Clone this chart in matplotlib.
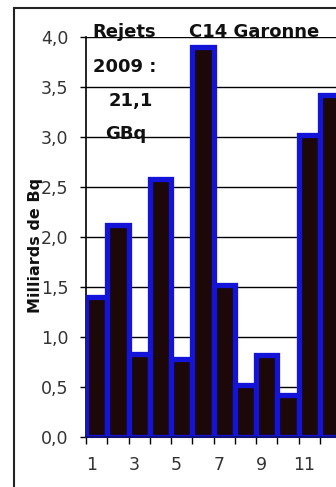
import matplotlib as mpl
mpl.use("Agg")
import matplotlib.pyplot as plt
from matplotlib.patches import Rectangle
from matplotlib.transforms import ScaledTranslation

months = [1, 2, 3, 4, 5, 6, 7, 8, 9, 10, 11, 12]
values = [1.40, 2.12, 0.83, 2.58, 0.78, 3.90, 1.52, 0.52, 0.82, 0.42, 3.02, 3.42]
yticks = [0.0, 0.5, 1.0, 1.5, 2.0, 2.5, 3.0, 3.5, 4.0]
xlabels = ["1", "", "3", "", "5", "", "7", "", "9", "", "11", ""]

W, H = 336, 487
fig = plt.figure(figsize=(W / 100, H / 100), dpi=100)
fig.patch.set_facecolor("white")

# outer chart border (cropped on right / bottom)
fig.patches.append(Rectangle((14 / W, -0.05), 1.2, 1 - 8 / H + 0.05,
                             transform=fig.transFigure, fill=False,
                             edgecolor="#222222", linewidth=1.5))

ax = fig.add_axes([86 / W, 1 - 437 / H, 255 / W, 400 / H])
ax.bar(months, values, width=1.0, color="#1c0808", edgecolor="#1414d8",
       linewidth=3.8, zorder=3)
ax.set_xlim(0.5, 12.5)
ax.set_ylim(0, 4.0)
ax.set_yticks(yticks)
ax.set_yticklabels([("%.1f" % v).replace(".", ",") for v in yticks],
                   fontsize=12.5, color="#333333", family="DejaVu Sans")
ax.yaxis.grid(True, color="black", linewidth=1.0, zorder=1)
ax.set_axisbelow(True)

ax.set_xticks([m - 0.5 for m in months] + [12.5])
ax.set_xticklabels([])
ax.set_xticks(months, minor=True)
ax.set_xticklabels(xlabels, minor=True, fontsize=12.5, color="#333333",
                   family="DejaVu Sans")
ax.tick_params(axis="x", which="minor", length=0, pad=14)
ax.tick_params(axis="x", which="major", length=5, width=1, color="black")
ax.tick_params(axis="y", length=4.5, width=1, pad=8)
shift = ScaledTranslation(-0.05, 0, fig.dpi_scale_trans)
for lab in ax.get_xticklabels(minor=True):
    lab.set_transform(lab.get_transform() + shift)

for s in ["top", "right"]:
    ax.spines[s].set_visible(False)
ax.spines["left"].set_linewidth(1.2)
ax.spines["bottom"].set_linewidth(1.5)
ax.spines["bottom"].set_color("#10107a")
ax.spines["bottom"].set_zorder(4)

fig.text(36 / W, 1 - 245 / H, "Milliards de Bq", rotation=90, ha="center",
         va="center", fontsize=11.5, fontweight="bold", family="DejaVu Sans",
         color="#111111")

tfont = dict(fontsize=13, fontweight="bold", family="DejaVu Sans",
             color="#111111", va="center", ha="left")
fig.text(92 / W, 1 - 32 / H, "Rejets", **tfont)
fig.text(189 / W, 1 - 32 / H, "C14 Garonne", **tfont)
fig.text(93 / W, 1 - 67 / H, "2009 :", **tfont)
fig.text(109 / W, 1 - 101 / H, "21,1", **tfont)
fig.text(105 / W, 1 - 134 / H, "GBq", **tfont)

fig.savefig("out.png", dpi=100)
plt.close()
